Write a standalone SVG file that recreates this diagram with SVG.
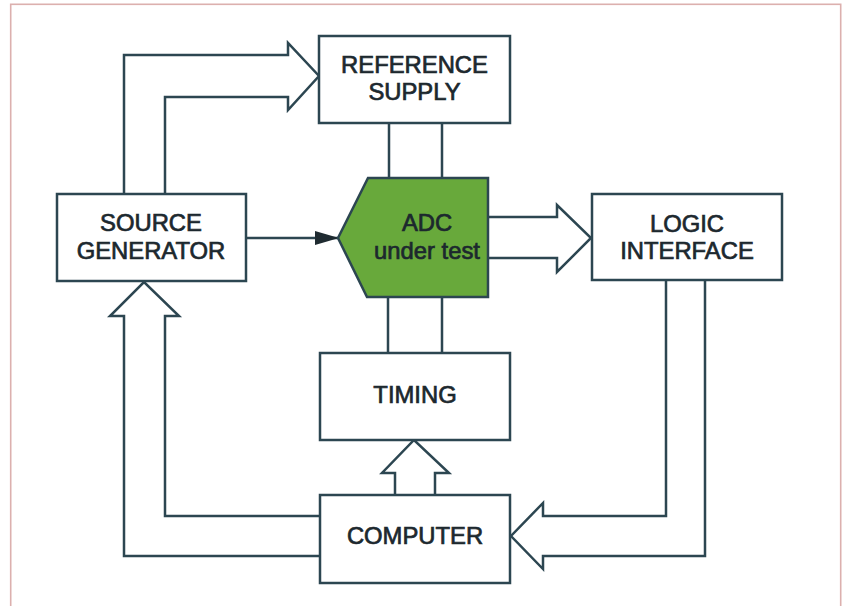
<svg xmlns="http://www.w3.org/2000/svg" width="842" height="606" viewBox="0 0 842 606">
<style>
.box{fill:#ffffff;stroke:#2c4651;stroke-width:2.5}
.ln{fill:none;stroke:#2c4651;stroke-width:2.5}
.harrow{fill:#ffffff;stroke:#2c4651;stroke-width:2.5;stroke-linejoin:miter}
.adc{fill:#68a93b;stroke:#2c4651;stroke-width:2.5}
.t{font-family:"Liberation Sans",Arial,sans-serif;font-size:23.8px;fill:#1c282e;text-anchor:middle;stroke:#1c282e;stroke-width:0.7}
</style>
<defs>
<marker id="fa" viewBox="0 0 24 14" refX="23" refY="7" markerWidth="24" markerHeight="14" markerUnits="userSpaceOnUse" orient="auto">
<path d="M0,0 L24,7 L0,14 Z" fill="#1f2b31"/>
</marker>
</defs>
<rect x="10.7" y="4.3" width="830" height="620" fill="#ffffff" stroke="#dcb0ae" stroke-width="1.6"/>
<g id="connectors">
<path class="harrow" d="M124,194 L124,55 L288,55 L288,43 L319,76 L288,110 L288,97 L165,97 L165,194"/>
<path class="harrow" d="M488,217 L557,217 L557,205 L591,238 L557,272 L557,258 L488,258"/>
<path class="harrow" d="M666,281 L666,516 L543,516 L543,503 L511,536 L543,569 L543,556 L705,556 L705,281"/>
<path class="harrow" d="M320,516 L165,516 L165,316 L179,316 L144,282 L110,316 L124,316 L124,556 L320,556"/>
<path class="harrow" d="M395,495 L395,473 L382,473 L414,440 L449,473 L435,473 L435,495"/>
<path class="ln" d="M389,123 L389,178 M442,123 L442,178"/>
<path class="ln" d="M388,297 L388,353 M442,297 L442,353"/>
<path class="ln" d="M246,238 L338,238" marker-end="url(#fa)"/>
</g>
<g id="reference-supply">
<rect class="box" x="319" y="36" width="191" height="87"/>
<text class="t" x="414.5" y="73">REFERENCE</text>
<text class="t" x="414.5" y="100">SUPPLY</text>
</g>
<g id="source-generator">
<rect class="box" x="57" y="194" width="189" height="87"/>
<text class="t" x="151" y="231">SOURCE</text>
<text class="t" x="151" y="259">GENERATOR</text>
</g>
<g id="adc">
<path class="adc" d="M368,178 L488,178 L488,297 L367,297 L338,238 Z"/>
<text class="t" x="427" y="231">ADC</text>
<text class="t" x="427" y="259">under test</text>
</g>
<g id="logic-interface">
<rect class="box" x="592" y="194" width="190" height="86"/>
<text class="t" x="687" y="232">LOGIC</text>
<text class="t" x="687" y="259">INTERFACE</text>
</g>
<g id="timing">
<rect class="box" x="320" y="353" width="190" height="87"/>
<text class="t" x="415" y="403">TIMING</text>
</g>
<g id="computer">
<rect class="box" x="320" y="495" width="190" height="88"/>
<text class="t" x="415" y="544">COMPUTER</text>
</g>
</svg>
